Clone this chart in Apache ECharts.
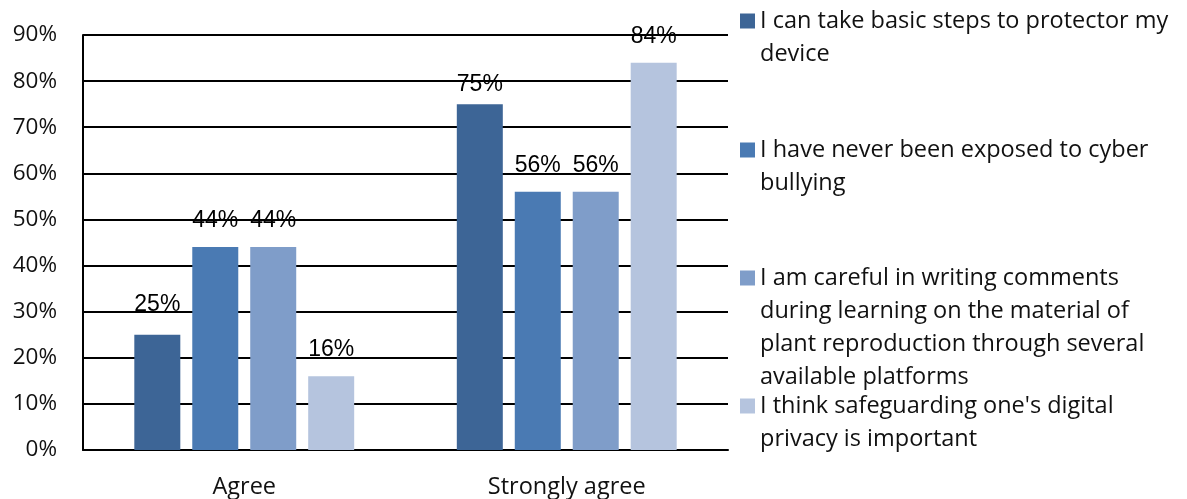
<!DOCTYPE html>
<html>
<head>
<meta charset="utf-8">
<script src="https://cdn.jsdelivr.net/npm/echarts@6/dist/echarts.min.js"></script>
<style>
  html, body { margin: 0; padding: 0; background: #fff; }
  #chart { width: 1187px; height: 499px; }
</style>
</head>
<body>
<div id="chart"></div>
<script>
// Survey responses by statement, share of respondents (%)
const categories = ['Agree', 'Strongly agree'];
const seriesNames = [
  'I can take basic steps to protector my device',
  'I have never been exposed to cyber bullying',
  'I am careful in writing comments during learning on the material of plant reproduction through several available platforms',
  "I think safeguarding one's digital privacy is important"
];
const stepsValues = [25, 75];
const bullyingValues = [44, 56];
const commentsValues = [44, 56];
const privacyValues = [16, 84];
const yTicks = [0, 10, 20, 30, 40, 50, 60, 70, 80, 90];

// Wrapped legend captions
const legendLines = [
  ['I can take basic steps to protector my', 'device'],
  ['I have never been exposed to cyber', 'bullying'],
  ['I am careful in writing comments', 'during learning on the material of', 'plant reproduction through several', 'available platforms'],
  ["I think safeguarding one's digital", 'privacy is important']
];
// vertical centre of each legend entry's first line
const legendLineCenters = [21, 150, 278, 406];

const colors = ['#3d6596', '#4a7ab3', '#7f9dc9', '#b5c4de'];
const valueSets = [stepsValues, bullyingValues, commentsValues, privacyValues];
// hand-nudged value labels of the first series (vertical px shift per category)
const labelNudge = [[-4, 7], [0, 0], [0, 0], [0, 0]];

const LH = 33;
// One legend block per entry; leading blank lines keep the swatch level with the first line
const legends = seriesNames.map((name, i) => {
  const n = legendLines[i].length;
  const text = '\n'.repeat(n - 1) + legendLines[i].join('\n');
  return {
    data: [name],
    left: 740,
    top: legendLineCenters[i] - (2 * n - 1) * LH / 2,
    orient: 'vertical',
    padding: 0,
    itemWidth: 15,
    itemHeight: 15,
    itemGap: 0,
    icon: 'rect',
    selectedMode: false,
    formatter: () => text,
    textStyle: {
      fontFamily: 'Open Sans',
      fontSize: 23.5,
      color: '#111',
      lineHeight: LH
    }
  };
});

const chart = echarts.init(document.getElementById('chart'), null, { renderer: 'canvas' });
chart.setOption({
  animation: false,
  backgroundColor: '#ffffff',
  color: colors,
  legend: legends,
  grid: { left: 83, right: 459, top: 35, bottom: 48, containLabel: false },
  xAxis: {
    type: 'category',
    data: categories,
    axisLine: { show: true, lineStyle: { color: '#000', width: 2 } },
    axisTick: { show: false },
    axisLabel: { fontFamily: 'Open Sans', fontSize: 23.5, color: '#111', margin: 25 }
  },
  yAxis: {
    type: 'value',
    min: yTicks[0],
    max: yTicks[yTicks.length - 1],
    interval: 10,
    axisLine: { show: true, lineStyle: { color: '#000', width: 2 } },
    axisTick: { show: false },
    axisLabel: {
      fontFamily: 'Open Sans', fontSize: 22.5, color: '#111', margin: 26,
      formatter: v => v + '%'
    },
    splitLine: { show: true, lineStyle: { color: '#000', width: 2 } }
  },
  series: valueSets.map((vals, i) => ({
    name: seriesNames[i],
    type: 'bar',
    data: vals.map((v, j) => ({
      value: v,
      label: { offset: [0, labelNudge[i][j]] }
    })),
    barWidth: 46,
    barGap: '26%',
    itemStyle: { color: colors[i] },
    label: {
      show: true,
      position: 'top',
      distance: 15,
      formatter: p => p.value + '%',
      fontFamily: 'Liberation Sans',
      fontSize: 23,
      color: '#000'
    }
  }))
});
</script>
</body>
</html>
